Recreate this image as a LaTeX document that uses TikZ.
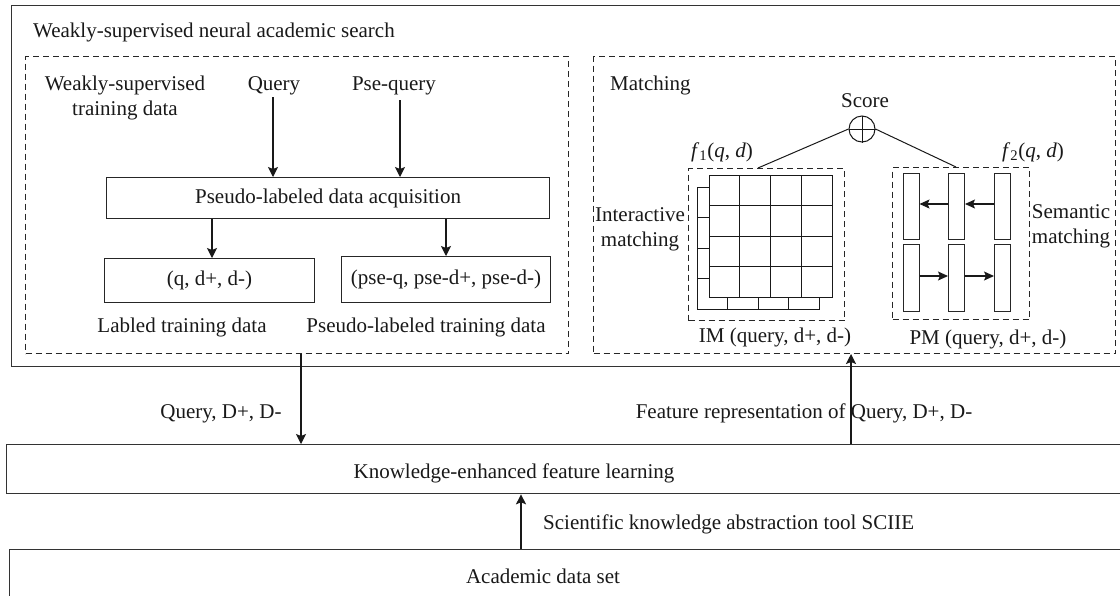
\documentclass[tikz,border=0pt]{standalone}
\usepackage{fontspec}
\setmainfont{Liberation Serif}
\usetikzlibrary{arrows.meta,calc}
\begin{document}
\begin{tikzpicture}[x=1pt,y=-1pt,
  every node/.style={font=\fontsize{21}{25}\selectfont, inner sep=0pt, text=black!90},
  solidbox/.style={draw=black!80, line width=1.3pt, anchor=north west},
  dashbox/.style={draw=black!85, line width=1pt, dash pattern=on 6pt off 4pt, anchor=north west},
  plainbox/.style={draw=black!85, line width=1.1pt, anchor=north west},
  lbl/.style={anchor=base},
  arr/.style={draw=black!90, line width=1.2pt, -{Stealth[length=10pt,width=10pt,inset=2pt]}},
  sarr/.style={draw=black!90, line width=1.1pt, -{Stealth[length=10pt,width=9pt,inset=2pt]}},
  bar/.style={draw=black!85, line width=1pt, minimum width=16pt},
  gridline/.style={draw=black!90, line width=1pt},
  link/.style={draw=black!90, line width=1pt}
]
\clip (0,0) rectangle (1120,595);
\fill[white] (0,0) rectangle (1120,595);

% outer solid box
\node[solidbox, minimum width=1130pt, minimum height=361pt] (outer) at (10.7,5) {};
\node[anchor=base west] (title) at (33,37) {Weakly-supervised neural academic search};

% left dashed box
\node[dashbox, minimum width=543pt, minimum height=297pt] (leftbox) at (25,56) {};
\node[lbl] (wsA) at (125,90) {Weakly-supervised};
\node[lbl] (wsB) at (125,115) {training data};
\node[lbl] (query) at (274,90) {Query};
\node[lbl] (psequery) at (394,90) {Pse-query};
\node[plainbox, minimum width=443pt, minimum height=41pt] (pda) at (106,177) {};
\node (pdatext) at (pda.center) {Pseudo-labeled data acquisition};
\node[plainbox, minimum width=210pt, minimum height=44pt] (qbox) at (104,258) {};
\node (qtext) at (qbox.center) {(q, d+, d-)};
\node[plainbox, minimum width=209pt, minimum height=46pt] (pbox) at (341,256) {};
\node (ptext) at (pbox.center) {(pse-q, pse-d+, pse-d-)};
\node[lbl] (labA) at (182,332) {Labled training data};
\node[lbl] (labB) at (426,332) {Pseudo-labeled training data};

\coordinate (qx) at (273,97);
\coordinate (px) at (400,100);
\draw[arr] (qx) -- (qx |- pda.north);
\draw[arr] (px) -- (px |- pda.north);
\coordinate (dl) at (212,0);
\coordinate (dr) at (446,0);
\draw[arr] (pda.south -| dl) -- (qbox.north -| dl);
\draw[arr] (pda.south -| dr) -- (pbox.north -| dr);

% right dashed box
\node[dashbox, minimum width=522pt, minimum height=297pt] (rightbox) at (593,56) {};
\node[anchor=base west] (matching) at (610,90) {Matching};
\node[lbl] (score) at (865,107) {Score};
\node[circle, draw=black!90, line width=1pt, minimum size=26pt] (plus) at (862,129) {};
\draw[link] (plus.north) -- (plus.south) (plus.west) -- (plus.east);
\node[lbl] (f1) at (722,157) {\textit{f}\textsubscript{1}(\textit{q}, \textit{d})};
\node[lbl] (f2) at (1033,157) {\textit{f}\textsubscript{2}(\textit{q}, \textit{d})};

\node[dashbox, minimum width=156pt, minimum height=152pt] (imbox) at (688,168) {};
\node[dashbox, minimum width=137pt, minimum height=152pt] (pmbox) at (892,167) {};
\coordinate (iml) at (758,0);
\coordinate (pml) at (956,0);
\draw[link] (plus.west) -- (imbox.north -| iml);
\draw[link] (plus.east) -- (pmbox.north -| pml);

\node[lbl] (intA) at (640,221) {Interactive};
\node[lbl] (intB) at (640,246) {matching};
\node[lbl] (semA) at (1071,218) {Semantic};
\node[lbl] (semB) at (1071,243) {matching};

% back grid
\draw[gridline, fill=white] (697,187) rectangle (819,309);
\foreach \i in {1,2,3} {
  \draw[gridline] ({697+30.5*\i},187) -- ({697+30.5*\i},309);
  \draw[gridline] (697,{187+30.5*\i}) -- (819,{187+30.5*\i});
}
% front grid
\draw[gridline, fill=white] (709,175) rectangle (832,297);
\foreach \i in {1,2,3} {
  \draw[gridline] ({709+30.75*\i},175) -- ({709+30.75*\i},297);
  \draw[gridline] (709,{175+30.5*\i}) -- (832,{175+30.5*\i});
}

% PM bars
\node[bar, minimum height=66pt] (b11) at (911,206) {};
\node[bar, minimum height=66pt] (b12) at (956.5,206) {};
\node[bar, minimum height=66pt] (b13) at (1002.5,206) {};
\node[bar, minimum height=67pt] (b21) at (911,277.5) {};
\node[bar, minimum height=67pt] (b22) at (956.5,277.5) {};
\node[bar, minimum height=67pt] (b23) at (1002.5,277.5) {};
\draw[sarr] ([yshift=2]b12.west) -- ([yshift=2]b11.east);
\draw[sarr] ([yshift=2]b13.west) -- ([yshift=2]b12.east);
\draw[sarr] ([yshift=1.5]b21.east) -- ([yshift=1.5]b22.west);
\draw[sarr] ([yshift=1.5]b22.east) -- ([yshift=1.5]b23.west);

\node[lbl] (imlabel) at (775,342) {IM (query, d+, d-)};
\node[lbl] (pmlabel) at (988,344) {PM (query, d+, d-)};

% knowledge box
\node[solidbox, minimum width=1130pt, minimum height=49pt] (kfl) at (6,444) {};
\node[lbl] (kfltext) at (514,478) {Knowledge-enhanced feature learning};

% academic box
\node[solidbox, minimum width=1130pt, minimum height=60pt] (acad) at (9,549) {};
\node[lbl] (acadtext) at (543,583) {Academic data set};

% inter-level arrows
\coordinate (qd) at (301,0);
\draw[arr] (leftbox.south -| qd) -- (kfl.north -| qd);
\node[lbl] (qdlabel) at (221,418) {Query, D+, D-};
\node[lbl] (frlabel) at (804,418) {Feature representation of Query, D+, D-};
\coordinate (fr) at (851,0);
\draw[arr] (kfl.north -| fr) -- (rightbox.south -| fr);
\coordinate (sc) at (521,0);
\draw[arr] (acad.north -| sc) -- (kfl.south -| sc);
\node[anchor=base west] (sclabel) at (543,529) {Scientific knowledge abstraction tool SCIIE};
\end{tikzpicture}
\end{document}
